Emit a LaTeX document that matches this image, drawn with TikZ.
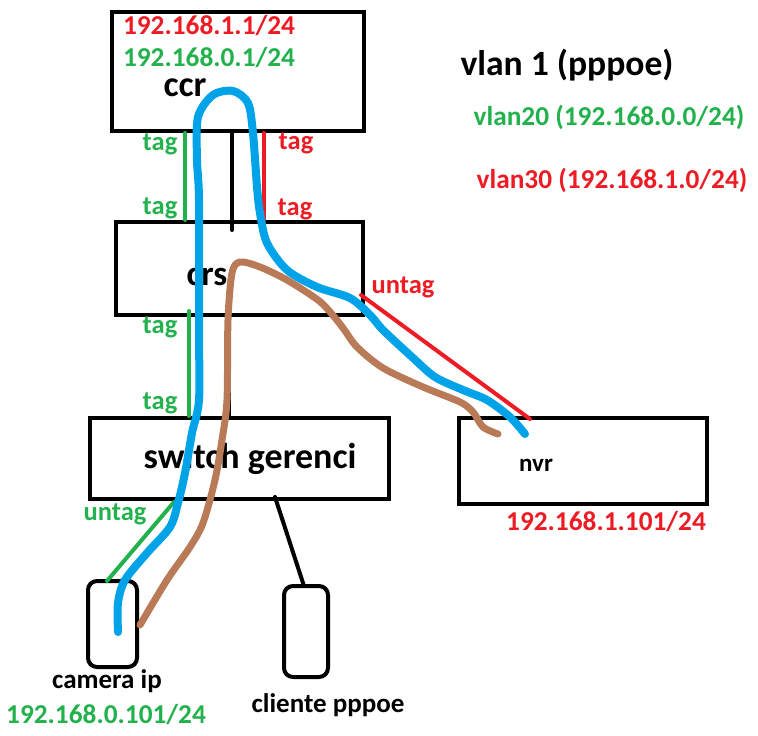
\documentclass[tikz,border=0pt]{standalone}
\usepackage{fontspec}
\setmainfont{Carlito}
\usepackage{xcolor}
\definecolor{paintred}{HTML}{ED1C24}
\definecolor{paintgreen}{HTML}{22B14C}
\definecolor{paintblue}{HTML}{00A2E8}
\definecolor{paintbrown}{HTML}{B97A57}
\tikzset{
	netbox/.style={draw, line width=4pt, inner sep=0pt},
	label/.style={inner sep=0pt, font=\bfseries\fontsize{#1}{#1}\selectfont},
	link/.style={line width=4pt, line cap=round},
	pathblue/.style={paintblue, line width=8pt, line cap=round, line join=round},
	pathbrown/.style={paintbrown, line width=7pt, line cap=round, line join=round}
}

\begin{document}
\begin{tikzpicture}[x=1pt, y=-1pt]
	\useasboundingbox (0,0) rectangle (758,736);
	% Devices
	\node[netbox, minimum width=252pt, minimum height=119pt] (ccr) at (238,71.5) {};
	\node[netbox, minimum width=247pt, minimum height=93pt] (crs) at (239.5,268.5) {};
	\node[netbox, minimum width=299pt, minimum height=81pt] (swt) at (239.5,458.5) {};
	\node[netbox, minimum width=248pt, minimum height=86pt] (nvr) at (583,461) {};
	\node[netbox, rounded corners=9pt, minimum width=49pt, minimum height=86pt] (cam) at (112.5,624) {};
	\node[netbox, rounded corners=9pt, minimum width=44pt, minimum height=91pt] (cli) at (306,631.5) {};
	% Device names
	\node[label=36] (ccrname) at (185,88) {ccr};
	\node[label=35] (crsname) at (207,277) {crs};
	\node[label=36] (swtname) at (250,459) {switch gerenci};
	\node[label=25] (nvrname) at (536,465) {nvr};
	\node[label=27] (camname) at (107,681) {camera ip};
	\node[label=27] (cliname) at (328,705) {cliente pppoe};
	% Addresses
	\node[label=27.3, text=paintred] (ccrip1) at (209,26) {192.168.1.1/24};
	\node[label=27.3, text=paintgreen] (ccrip0) at (209,58) {192.168.0.1/24};
	\node[label=27.3, text=paintred] (nvrip) at (606,522) {192.168.1.101/24};
	\node[label=27.3, text=paintgreen] (camip) at (106,715) {192.168.0.101/24};
	% Legend
	\node[label=35.6] (vlan1) at (567,65) {vlan 1 (pppoe)};
	\node[label=27.3, text=paintgreen] (vlan20) at (609,117) {vlan20 (192.168.0.0/24)};
	\node[label=27.3, text=paintred] (vlan30) at (612,180) {vlan30 (192.168.1.0/24)};
	% Port labels
	\node[label=26.5, text=paintgreen] (tagA) at (160,144) {tag};
	\node[label=26.5, text=paintgreen] (tagB) at (160,208) {tag};
	\node[label=26.5, text=paintgreen] (tagC) at (160,327) {tag};
	\node[label=26.5, text=paintgreen] (tagD) at (160,403) {tag};
	\node[label=26.5, text=paintred] (tagE) at (296,143) {tag};
	\node[label=26.5, text=paintred] (tagF) at (295,209) {tag};
	\node[label=26.5, text=paintred] (untagR) at (403,287) {untag};
	\node[label=26.5, text=paintgreen] (untagG) at (115,514) {untag};
	% Anchors of the cables
	\coordinate (xA) at (232,0);
	\coordinate (xB) at (229,0);
	\coordinate (xC) at (185,0);
	\coordinate (xD) at (264,0);
	\coordinate (xE) at (189,0);
	\coordinate (crsIn) at (232,230);
	\coordinate (swtOut) at (275,497);
	\coordinate (cliIn) at (304,586);
	\coordinate (crsOut) at (361,295);
	\coordinate (nvrIn) at (530,419);
	\coordinate (swtCam) at (174,502);
	\coordinate (camIn) at (107,581);
	\coordinate (camBlue) at (118,632);
	\coordinate (camBrown) at (140,625);
	\coordinate (nvrBlue) at (525,434);
	\coordinate (nvrBrown) at (498,434);
	% Links
	\draw[link] (ccr.south -| xA) -- (crsIn);
	\draw[link] (xB |- 0,370) -- (swt.north -| xB);
	\draw[link] (swtOut) -- (cliIn);
	\draw[link, paintgreen] (ccr.south -| xC) -- (crs.north -| xC);
	\draw[link, paintred] (ccr.south -| xD) -- (crs.north -| xD);
	\draw[link, paintgreen] (xE |- 0,311) -- (swt.north -| xE);
	\draw[link, paintred] (crsOut) -- (nvrIn);
	\draw[link, paintgreen] (swtCam) -- (camIn);
	% Brown path
	\draw[pathbrown] plot[smooth] coordinates {(nvrBrown) (483,427) (473,412) (460,402) (423,387) (383,368) (357,347) (343,328) (331,313) (318,300) (287,280) (260,267) (240,262) (232,273) (228,320) (227,400) (222,440) (215,480) (203,523) (190,547) (167,580) (camBrown)};
	% Blue path
	\draw[pathblue] plot[smooth] coordinates {(nvrBlue) (510,417) (487,400) (463,390) (435,377) (412,357) (383,330) (370,315) (350,298) (317,287) (287,270) (267,243) (260,213) (257,187) (253,133) (248,103) (233,91) (213,95) (198,117) (197,160) (199,200) (199,330) (199,400) (192,433) (185,473) (178,503) (170,527) (147,553) (125,580) (118,603) (camBlue)};
\end{tikzpicture}
\end{document}
